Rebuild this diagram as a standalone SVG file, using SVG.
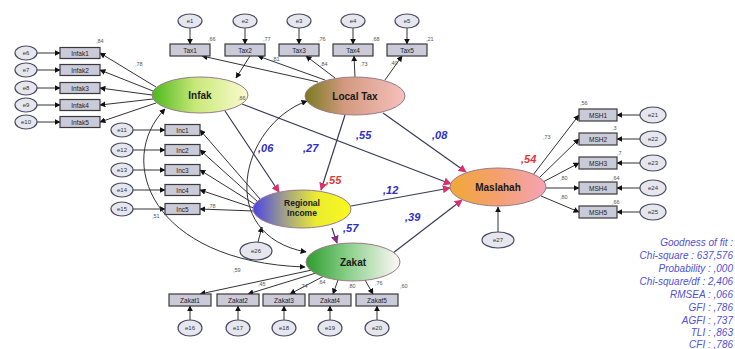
<svg xmlns="http://www.w3.org/2000/svg" width="735" height="349" viewBox="0 0 735 349">
<style>
.bg{fill:#ffffff}
.err{fill:#e6e6ee;stroke:#4a4a5e;stroke-width:1.2}
.et{font-family:"Liberation Sans",Arial,sans-serif;font-size:6px;fill:#333;text-anchor:middle}
.box{fill:#cacad8;stroke:#3a3a3a;stroke-width:1.2}
.bt{font-family:"Liberation Sans",Arial,sans-serif;font-size:6.5px;fill:#222;text-anchor:middle}
.lat{stroke:#9a7a8a;stroke-width:1}
.lt{font-family:"Liberation Sans",Arial,sans-serif;font-size:10px;font-weight:bold;fill:#1a1a1a;text-anchor:middle}
.ln{fill:none;stroke:#333;stroke-width:1}
.sp{fill:none;stroke:#3a3a5a;stroke-width:1.2}
.cv{fill:none;stroke:#333;stroke-width:1}
.coef{font-family:"Liberation Sans",Arial,sans-serif;font-size:11px;font-weight:bold;font-style:italic;fill:#2e2ec8}
.red{font-family:"Liberation Sans",Arial,sans-serif;font-size:11px;font-weight:bold;font-style:italic;fill:#e03838}
.sm{font-family:"Liberation Sans",Arial,sans-serif;font-size:5.5px;fill:#555}
.gof{font-family:"Liberation Sans",Arial,sans-serif;font-size:10px;font-style:italic;fill:#5050d4;text-anchor:end}
</style>
<defs>
<marker id="ah" viewBox="0 0 10 10" refX="9" refY="5" markerWidth="6" markerHeight="6" orient="auto-start-reverse" markerUnits="userSpaceOnUse"><path d="M0,0 L10,5 L0,10 z" fill="#111"/></marker>
<marker id="ar" viewBox="0 0 10 10" refX="9" refY="5" markerWidth="8" markerHeight="8" orient="auto" markerUnits="userSpaceOnUse"><path d="M0,0 L10,5 L0,10 z" fill="#d8306a"/></marker>
<marker id="ap" viewBox="0 0 10 10" refX="9" refY="5" markerWidth="8" markerHeight="8" orient="auto" markerUnits="userSpaceOnUse"><path d="M0,0 L10,5 L0,10 z" fill="#8a2a8a"/></marker>
<linearGradient id="gInfak" x1="0" y1="0" x2="1" y2="0"><stop offset="0" stop-color="#4cb81c"/><stop offset="0.45" stop-color="#c8e878"/><stop offset="1" stop-color="#fbfbd0"/></linearGradient>
<linearGradient id="gTax" x1="0" y1="0" x2="1" y2="0"><stop offset="0" stop-color="#7a7a20"/><stop offset="0.4" stop-color="#d49a80"/><stop offset="1" stop-color="#f6c0bc"/></linearGradient>
<linearGradient id="gRI" x1="0" y1="0" x2="1" y2="0"><stop offset="0" stop-color="#4a44e8"/><stop offset="0.3" stop-color="#9a9a90"/><stop offset="0.65" stop-color="#ecec30"/><stop offset="1" stop-color="#f8f820"/></linearGradient>
<linearGradient id="gZak" x1="0" y1="0" x2="1" y2="0"><stop offset="0" stop-color="#2e9c2e"/><stop offset="0.45" stop-color="#8ad08a"/><stop offset="1" stop-color="#fff8f8"/></linearGradient>
<linearGradient id="gMas" x1="0" y1="0" x2="1" y2="0"><stop offset="0" stop-color="#f0a838"/><stop offset="0.5" stop-color="#f4a070"/><stop offset="1" stop-color="#f4a4b4"/></linearGradient>
</defs>
<rect class="bg" x="0" y="0" width="735" height="349"/>

<g id="connectors">
<line class="ln" x1="190" y1="28" x2="190" y2="44" marker-end="url(#ah)"/>
<line class="ln" x1="245" y1="28" x2="245" y2="44" marker-end="url(#ah)"/>
<line class="ln" x1="299" y1="28" x2="299" y2="44" marker-end="url(#ah)"/>
<line class="ln" x1="353" y1="28" x2="353" y2="44" marker-end="url(#ah)"/>
<line class="ln" x1="407" y1="28" x2="407" y2="44" marker-end="url(#ah)"/>
<line class="ln" x1="318" y1="82" x2="202" y2="56" marker-end="url(#ah)"/>
<line class="ln" x1="325" y1="80" x2="258" y2="56" marker-end="url(#ah)"/>
<line class="ln" x1="335" y1="78" x2="306" y2="56" marker-end="url(#ah)"/>
<line class="ln" x1="355" y1="77" x2="354" y2="56" marker-end="url(#ah)"/>
<line class="ln" x1="385" y1="80" x2="402" y2="56" marker-end="url(#ah)"/>
<line class="ln" x1="250" y1="56" x2="236" y2="78" marker-end="url(#ah)"/>
<line class="ln" x1="37" y1="53" x2="60" y2="53" marker-end="url(#ah)"/>
<line class="ln" x1="37" y1="70" x2="60" y2="70" marker-end="url(#ah)"/>
<line class="ln" x1="37" y1="88" x2="60" y2="88" marker-end="url(#ah)"/>
<line class="ln" x1="37" y1="105" x2="60" y2="105" marker-end="url(#ah)"/>
<line class="ln" x1="37" y1="122" x2="60" y2="122" marker-end="url(#ah)"/>
<line class="ln" x1="156" y1="87" x2="100" y2="53" marker-end="url(#ah)"/>
<line class="ln" x1="153" y1="91" x2="100" y2="70" marker-end="url(#ah)"/>
<line class="ln" x1="152" y1="95" x2="100" y2="88" marker-end="url(#ah)"/>
<line class="ln" x1="153" y1="99" x2="100" y2="105" marker-end="url(#ah)"/>
<line class="ln" x1="156" y1="103" x2="100" y2="122" marker-end="url(#ah)"/>
<line class="ln" x1="133" y1="130" x2="165" y2="130" marker-end="url(#ah)"/>
<line class="ln" x1="133" y1="150" x2="165" y2="150" marker-end="url(#ah)"/>
<line class="ln" x1="133" y1="170" x2="165" y2="170" marker-end="url(#ah)"/>
<line class="ln" x1="133" y1="190" x2="165" y2="190" marker-end="url(#ah)"/>
<line class="ln" x1="133" y1="209" x2="165" y2="209" marker-end="url(#ah)"/>
<line class="ln" x1="260" y1="199" x2="200" y2="130" marker-end="url(#ah)"/>
<line class="ln" x1="258" y1="202" x2="200" y2="150" marker-end="url(#ah)"/>
<line class="ln" x1="256" y1="205" x2="200" y2="170" marker-end="url(#ah)"/>
<line class="ln" x1="254" y1="208" x2="200" y2="190" marker-end="url(#ah)"/>
<line class="ln" x1="254" y1="211" x2="200" y2="209" marker-end="url(#ah)"/>
<line class="ln" x1="190" y1="320" x2="190" y2="306" marker-end="url(#ah)"/>
<line class="ln" x1="238" y1="320" x2="238" y2="306" marker-end="url(#ah)"/>
<line class="ln" x1="284" y1="320" x2="284" y2="306" marker-end="url(#ah)"/>
<line class="ln" x1="330" y1="320" x2="330" y2="306" marker-end="url(#ah)"/>
<line class="ln" x1="377" y1="320" x2="377" y2="306" marker-end="url(#ah)"/>
<line class="ln" x1="312" y1="270" x2="200" y2="294" marker-end="url(#ah)"/>
<line class="ln" x1="316" y1="273" x2="248" y2="294" marker-end="url(#ah)"/>
<line class="ln" x1="324" y1="276" x2="290" y2="294" marker-end="url(#ah)"/>
<line class="ln" x1="338" y1="280" x2="333" y2="294" marker-end="url(#ah)"/>
<line class="ln" x1="365" y1="280" x2="373" y2="294" marker-end="url(#ah)"/>
<line class="ln" x1="533" y1="175" x2="579" y2="115" marker-end="url(#ah)"/>
<line class="ln" x1="539" y1="178" x2="579" y2="139" marker-end="url(#ah)"/>
<line class="ln" x1="543" y1="182" x2="579" y2="163" marker-end="url(#ah)"/>
<line class="ln" x1="546" y1="188" x2="579" y2="188" marker-end="url(#ah)"/>
<line class="ln" x1="541" y1="196" x2="579" y2="212" marker-end="url(#ah)"/>
<line class="ln" x1="640" y1="115" x2="617" y2="115" marker-end="url(#ah)"/>
<line class="ln" x1="640" y1="139" x2="617" y2="139" marker-end="url(#ah)"/>
<line class="ln" x1="640" y1="163" x2="617" y2="163" marker-end="url(#ah)"/>
<line class="ln" x1="640" y1="188" x2="617" y2="188" marker-end="url(#ah)"/>
<line class="ln" x1="640" y1="212" x2="617" y2="212" marker-end="url(#ah)"/>
<line class="ln" x1="258" y1="242" x2="262" y2="227" marker-end="url(#ah)"/>
<line class="ln" x1="498" y1="232" x2="498" y2="207" marker-end="url(#ah)"/>
<line class="sp" x1="225" y1="111" x2="279" y2="192" marker-end="url(#ar)"/>
<line class="sp" x1="345" y1="115" x2="321" y2="190" marker-end="url(#ar)"/>
<line class="sp" x1="242" y1="104" x2="451" y2="184" marker-end="url(#ar)"/>
<line class="sp" x1="383" y1="113" x2="466" y2="172" marker-end="url(#ar)"/>
<line class="sp" x1="351" y1="206" x2="450" y2="188" marker-end="url(#ar)"/>
<line class="sp" x1="393" y1="253" x2="462" y2="200" marker-end="url(#ar)"/>
<line class="sp" x1="332" y1="228" x2="337" y2="243" marker-end="url(#ap)"/>
<path class="cv" d="M165,109 C115,160 150,262 305,267" marker-start="url(#ah)" marker-end="url(#ah)"/>
<path class="cv" d="M307,101 C240,125 215,235 306,252" marker-start="url(#ah)" marker-end="url(#ah)"/>
</g>

<g id="e1"><ellipse class="err" cx="190" cy="21" rx="12" ry="7"/><text class="et" x="190" y="23">e1</text></g>
<g id="e2"><ellipse class="err" cx="245" cy="21" rx="12" ry="7"/><text class="et" x="245" y="23">e2</text></g>
<g id="e3"><ellipse class="err" cx="299" cy="21" rx="12" ry="7"/><text class="et" x="299" y="23">e3</text></g>
<g id="e4"><ellipse class="err" cx="353" cy="21" rx="12" ry="7"/><text class="et" x="353" y="23">e4</text></g>
<g id="e5"><ellipse class="err" cx="407" cy="21" rx="12" ry="7"/><text class="et" x="407" y="23">e5</text></g>

<g id="tax1"><rect class="box" x="170" y="44" width="40" height="12"/><text class="bt" x="190" y="52.5">Tax1</text></g>
<g id="tax2"><rect class="box" x="225" y="44" width="40" height="12"/><text class="bt" x="245" y="52.5">Tax2</text></g>
<g id="tax3"><rect class="box" x="279" y="44" width="40" height="12"/><text class="bt" x="299" y="52.5">Tax3</text></g>
<g id="tax4"><rect class="box" x="333" y="44" width="40" height="12"/><text class="bt" x="353" y="52.5">Tax4</text></g>
<g id="tax5"><rect class="box" x="387" y="44" width="40" height="12"/><text class="bt" x="407" y="52.5">Tax5</text></g>

<g id="e6"><ellipse class="err" cx="26" cy="53" rx="11" ry="7"/><text class="et" x="26" y="55">e6</text></g>
<g id="e7"><ellipse class="err" cx="26" cy="70" rx="11" ry="7"/><text class="et" x="26" y="72">e7</text></g>
<g id="e8"><ellipse class="err" cx="26" cy="88" rx="11" ry="7"/><text class="et" x="26" y="90">e8</text></g>
<g id="e9"><ellipse class="err" cx="26" cy="105" rx="11" ry="7"/><text class="et" x="26" y="107">e9</text></g>
<g id="e10"><ellipse class="err" cx="26" cy="122" rx="11" ry="7"/><text class="et" x="26" y="124">e10</text></g>

<g id="infak1"><rect class="box" x="60" y="47.5" width="40" height="11"/><text class="bt" x="80" y="55.5">Infak1</text></g>
<g id="infak2"><rect class="box" x="60" y="64.5" width="40" height="11"/><text class="bt" x="80" y="72.5">Infak2</text></g>
<g id="infak3"><rect class="box" x="60" y="82.5" width="40" height="11"/><text class="bt" x="80" y="90.5">Infak3</text></g>
<g id="infak4"><rect class="box" x="60" y="99.5" width="40" height="11"/><text class="bt" x="80" y="107.5">Infak4</text></g>
<g id="infak5"><rect class="box" x="60" y="116.5" width="40" height="11"/><text class="bt" x="80" y="124.5">Infak5</text></g>

<g id="e11"><ellipse class="err" cx="122" cy="130" rx="11" ry="7"/><text class="et" x="122" y="132">e11</text></g>
<g id="e12"><ellipse class="err" cx="122" cy="150" rx="11" ry="7"/><text class="et" x="122" y="152">e12</text></g>
<g id="e13"><ellipse class="err" cx="122" cy="170" rx="11" ry="7"/><text class="et" x="122" y="172">e13</text></g>
<g id="e14"><ellipse class="err" cx="122" cy="190" rx="11" ry="7"/><text class="et" x="122" y="192">e14</text></g>
<g id="e15"><ellipse class="err" cx="122" cy="209" rx="11" ry="7"/><text class="et" x="122" y="211">e15</text></g>

<g id="inc1"><rect class="box" x="165" y="124.5" width="35" height="11"/><text class="bt" x="182.5" y="132.5">Inc1</text></g>
<g id="inc2"><rect class="box" x="165" y="144.5" width="35" height="11"/><text class="bt" x="182.5" y="152.5">Inc2</text></g>
<g id="inc3"><rect class="box" x="165" y="164.5" width="35" height="11"/><text class="bt" x="182.5" y="172.5">Inc3</text></g>
<g id="inc4"><rect class="box" x="165" y="184.5" width="35" height="11"/><text class="bt" x="182.5" y="192.5">Inc4</text></g>
<g id="inc5"><rect class="box" x="165" y="203.5" width="35" height="11"/><text class="bt" x="182.5" y="211.5">Inc5</text></g>

<g id="zakat1"><rect class="box" x="169" y="294" width="42" height="12"/><text class="bt" x="190" y="302.5">Zakat1</text></g>
<g id="zakat2"><rect class="box" x="217" y="294" width="42" height="12"/><text class="bt" x="238" y="302.5">Zakat2</text></g>
<g id="zakat3"><rect class="box" x="263" y="294" width="42" height="12"/><text class="bt" x="284" y="302.5">Zakat3</text></g>
<g id="zakat4"><rect class="box" x="309" y="294" width="42" height="12"/><text class="bt" x="330" y="302.5">Zakat4</text></g>
<g id="zakat5"><rect class="box" x="356" y="294" width="42" height="12"/><text class="bt" x="377" y="302.5">Zakat5</text></g>

<g id="e16"><ellipse class="err" cx="190" cy="328" rx="12" ry="8"/><text class="et" x="190" y="330">e16</text></g>
<g id="e17"><ellipse class="err" cx="238" cy="328" rx="12" ry="8"/><text class="et" x="238" y="330">e17</text></g>
<g id="e18"><ellipse class="err" cx="284" cy="328" rx="12" ry="8"/><text class="et" x="284" y="330">e18</text></g>
<g id="e19"><ellipse class="err" cx="330" cy="328" rx="12" ry="8"/><text class="et" x="330" y="330">e19</text></g>
<g id="e20"><ellipse class="err" cx="377" cy="328" rx="12" ry="8"/><text class="et" x="377" y="330">e20</text></g>

<g id="msh1"><rect class="box" x="579" y="109" width="38" height="12"/><text class="bt" x="598" y="117.5">MSH1</text></g>
<g id="msh2"><rect class="box" x="579" y="133" width="38" height="12"/><text class="bt" x="598" y="141.5">MSH2</text></g>
<g id="msh3"><rect class="box" x="579" y="157" width="38" height="12"/><text class="bt" x="598" y="165.5">MSH3</text></g>
<g id="msh4"><rect class="box" x="579" y="182" width="38" height="12"/><text class="bt" x="598" y="190.5">MSH4</text></g>
<g id="msh5"><rect class="box" x="579" y="206" width="38" height="12"/><text class="bt" x="598" y="214.5">MSH5</text></g>

<g id="e21"><ellipse class="err" cx="653" cy="115" rx="13" ry="8"/><text class="et" x="653" y="117">e21</text></g>
<g id="e22"><ellipse class="err" cx="653" cy="139" rx="13" ry="8"/><text class="et" x="653" y="141">e22</text></g>
<g id="e23"><ellipse class="err" cx="653" cy="163" rx="13" ry="8"/><text class="et" x="653" y="165">e23</text></g>
<g id="e24"><ellipse class="err" cx="653" cy="188" rx="13" ry="8"/><text class="et" x="653" y="190">e24</text></g>
<g id="e25"><ellipse class="err" cx="653" cy="212" rx="13" ry="8"/><text class="et" x="653" y="214">e25</text></g>

<g id="e26"><ellipse class="err" cx="256" cy="251" rx="16" ry="9"/><text class="et" x="256" y="253">e26</text></g>
<g id="e27"><ellipse class="err" cx="498" cy="240" rx="16" ry="8"/><text class="et" x="498" y="242">e27</text></g>

<g id="infak"><ellipse class="lat" cx="200" cy="95" rx="48" ry="18" fill="url(#gInfak)"/><text class="lt" x="200" y="99">Infak</text></g>
<g id="localtax"><ellipse class="lat" cx="355" cy="96" rx="50" ry="19" fill="url(#gTax)"/><text class="lt" x="355" y="100">Local Tax</text></g>
<g id="regional"><ellipse class="lat" cx="302" cy="209" rx="49" ry="19" fill="url(#gRI)"/><text class="lt" x="302" y="206" style="font-size:8.5px">Regional</text><text class="lt" x="302" y="216" style="font-size:8.5px">Income</text></g>
<g id="zakat"><ellipse class="lat" cx="353" cy="262" rx="47" ry="19" fill="url(#gZak)"/><text class="lt" x="353" y="266">Zakat</text></g>
<g id="maslahah"><ellipse class="lat" cx="498" cy="187" rx="48" ry="19" fill="url(#gMas)"/><text class="lt" x="498" y="191">Maslahah</text></g>

<g id="coefs">
<text class="coef" x="258" y="152">,06</text>
<text class="coef" x="303" y="152">,27</text>
<text class="coef" x="356" y="139">,55</text>
<text class="coef" x="432" y="139">,08</text>
<text class="coef" x="383" y="194">,12</text>
<text class="coef" x="405" y="221">,39</text>
<text class="coef" x="343" y="232">,57</text>
<text class="red" x="326" y="184">,55</text>
<text class="red" x="521" y="163">,54</text>
</g>

<g id="loadings">
<text class="sm" x="208" y="41">,66</text>
<text class="sm" x="263" y="41">,77</text>
<text class="sm" x="318" y="41">,76</text>
<text class="sm" x="372" y="41">,68</text>
<text class="sm" x="426" y="41">,21</text>
<text class="sm" x="272" y="61">,81</text>
<text class="sm" x="320" y="66">,84</text>
<text class="sm" x="360" y="66">,73</text>
<text class="sm" x="390" y="65">,40</text>
<text class="sm" x="96" y="43">,84</text>
<text class="sm" x="135" y="66">,78</text>
<text class="sm" x="208" y="208">,78</text>
<text class="sm" x="152" y="218">,51</text>
<text class="sm" x="238" y="100">,66</text>
<text class="sm" x="580" y="105">,56</text>
<text class="sm" x="543" y="139">,73</text>
<text class="sm" x="612" y="130">,3</text>
<text class="sm" x="617" y="155">,7</text>
<text class="sm" x="612" y="180">,64</text>
<text class="sm" x="612" y="204">,66</text>
<text class="sm" x="560" y="180">,80</text>
<text class="sm" x="560" y="199">,80</text>
<text class="sm" x="233" y="272">,59</text>
<text class="sm" x="258" y="286">,45</text>
<text class="sm" x="300" y="288">,74</text>
<text class="sm" x="318" y="284">,64</text>
<text class="sm" x="348" y="288">,80</text>
<text class="sm" x="375" y="285">,76</text>
<text class="sm" x="400" y="288">,60</text>
</g>

<g id="goodness">
<text class="gof" x="733" y="246">Goodness of fit :</text>
<text class="gof" x="733" y="259">Chi-square : 637,576</text>
<text class="gof" x="733" y="272">Probability : ,000</text>
<text class="gof" x="733" y="285">Chi-square/df : 2,406</text>
<text class="gof" x="733" y="298">RMSEA : ,066</text>
<text class="gof" x="733" y="311">GFI : ,786</text>
<text class="gof" x="733" y="324">AGFI : ,737</text>
<text class="gof" x="733" y="336">TLI : ,863</text>
<text class="gof" x="733" y="348">CFI : ,786</text>
</g>
</svg>
